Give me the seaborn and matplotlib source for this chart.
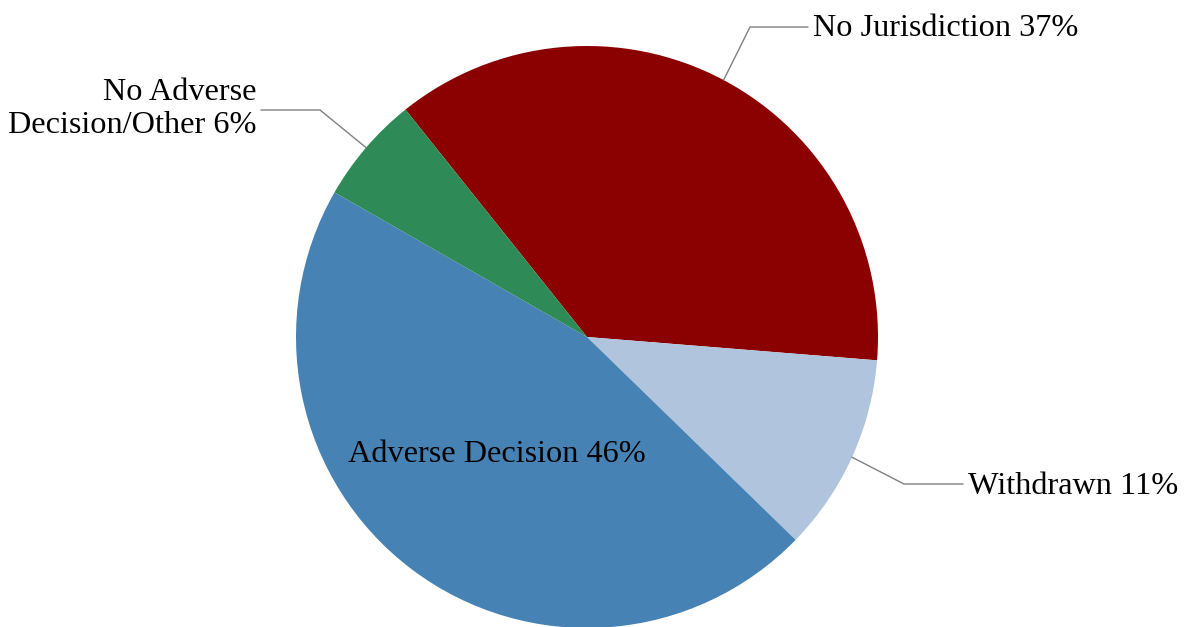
import matplotlib.pyplot as plt
import numpy as np
import seaborn as sns

labels = ["No Jurisdiction", "Withdrawn", "Adverse Decision", "No Adverse\nDecision/Other"]
shares = [37, 11, 46, 6]
colors = ["#8B0000", "#B0C4DE", "#4682B4", "#2E8B57"]

sns.set_theme(style="white")
plt.rcParams["font.family"] = ["Liberation Serif", "DejaVu Serif"]

fig = plt.figure(figsize=(11.87, 6.27), dpi=100)
ax = fig.add_axes([0, 0, 1, 1])

px = 291.0  # pixels per unit radius
cx, cy = 587, 337
wedges, _ = ax.pie(shares, colors=colors, startangle=128.6, counterclock=False,
                   radius=1, center=(0, 0), wedgeprops=dict(linewidth=0))
ax.set_xlim(-cx / px, (1187 - cx) / px)
ax.set_ylim(-(627 - cy) / px, cy / px)
ax.set_aspect("auto")
ax.axis("off")


def to_data(x, y):
    return (x - cx) / px, (cy - y) / px


# label layout: (elbow px, text anchor px, ha) per slice; None = inside label
layout = [
    ((750, 27), (813, 28), "left"),
    ((904, 484), (968, 486), "left"),
    None,
    ((320, 110), (256, 109), "right"),
]

fs = 23.2
for w, lab, val, lay in zip(wedges, labels, shares, layout):
    mid = np.deg2rad((w.theta1 + w.theta2) / 2)
    text = f"{lab} {val}%"
    if lay is None:
        tx, ty = to_data(497, 454)
        ax.text(tx, ty, text, ha="center", va="center", fontsize=fs, color="black")
        continue
    (ex, ey), (tx, ty), ha = lay
    ex, ey = to_data(ex, ey)
    tdx, tdy = to_data(tx, ty)
    end = tdx - 5 / px if ha == "left" else tdx + 5 / px
    ax.plot([np.cos(mid), ex, end], [np.sin(mid), ey, ey],
            color="#808080", lw=1)
    ax.text(tdx, tdy, text, ha=ha, va="center", fontsize=fs, color="black",
            multialignment="right" if ha == "right" else "left", linespacing=1.15)

fig.savefig("out.png", dpi=100)
